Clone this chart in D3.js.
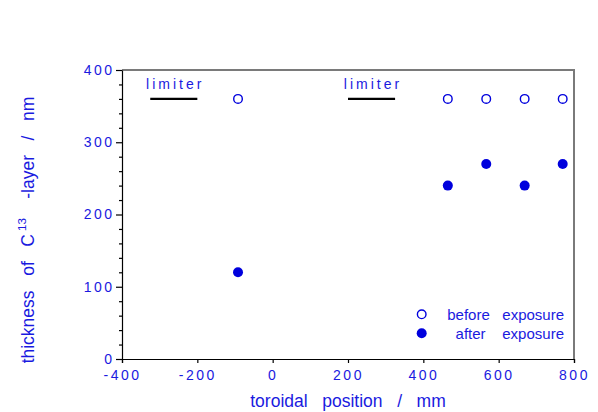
<!DOCTYPE html>
<html><head><meta charset="utf-8">
<script src="https://cdn.jsdelivr.net/npm/d3@7"></script>
<style>body{margin:0;background:#fff}svg{display:block}text{font-family:"Liberation Sans",Arial,sans-serif}</style>
</head><body><svg id="c" width="598" height="412"></svg>
<script>
const positions = [-92, 465, 567, 669, 770];
const before = [360, 360, 360, 360, 360];
const afterX = [-92, 465, 567, 669, 770];
const after = [120, 240, 270, 240, 270];
const limiters = [[-325, -200], [200, 325]];
const limiterY = 360;
const xTicks = [-400, -200, 0, 200, 400, 600, 800];
const yTicks = [0, 100, 200, 300, 400];
const blue = "#1a1ae0";
const dot = "#0000dd";

const svg = d3.select("#c");
const x = d3.scaleLinear().domain([-400, 800]).range([122, 574]);
const y = d3.scaleLinear().domain([0, 400]).range([359, 70]);

// frame top/right gray
svg.append("path").attr("d", `M${x(-400)},${y(400)}H${x(800)}V${y(0)}`)
  .attr("fill", "none").attr("stroke", "#7a7a7a").attr("stroke-width", 2);

// x axis
const xa = svg.append("g").attr("transform", `translate(0,${y(0)})`)
  .call(d3.axisBottom(x).tickValues(xTicks).tickSize(4).tickPadding(7).tickFormat(d => d));
xa.select(".domain").attr("stroke", "#000").attr("stroke-width", 1.2);
xa.selectAll(".tick line").attr("stroke", "#000").attr("stroke-width", 1.2);
xa.selectAll("text").attr("fill", blue).attr("font-size", 14).attr("letter-spacing", "2.5px")
  .text(d => d < 0 ? "-" + Math.abs(d) : String(d));

// y axis minor ticks
const ya = svg.append("g").attr("transform", `translate(${x(-400)},0)`);
ya.call(d3.axisLeft(y).tickValues(d3.range(0, 401, 20).filter(v => v % 100 !== 0)).tickSize(3).tickFormat(""));
ya.select(".domain").remove();
ya.selectAll(".tick line").attr("stroke", "#000").attr("stroke-width", 1.2);
const ya2 = svg.append("g").attr("transform", `translate(${x(-400)},0)`)
  .call(d3.axisLeft(y).tickValues(yTicks).tickSize(6).tickPadding(4).tickSizeOuter(0));
ya2.select(".domain").attr("stroke", "#000").attr("stroke-width", 1.2);
ya2.selectAll(".tick line").attr("stroke", "#000").attr("stroke-width", 1.2);
ya2.selectAll("text").attr("fill", blue).attr("font-size", 14).attr("letter-spacing", "2.5px").attr("dx", "2.5px");

// limiters
svg.selectAll(".lim").data(limiters).enter().append("line")
  .attr("x1", d => x(d[0])).attr("x2", d => x(d[1]))
  .attr("y1", y(limiterY)).attr("y2", y(limiterY))
  .attr("stroke", "#000").attr("stroke-width", 2.2);
svg.selectAll(".limt").data(limiters).enter().append("text")
  .attr("x", d => x((d[0] + d[1]) / 2) + 1.5).attr("y", y(limiterY) - 9.5)
  .attr("text-anchor", "middle").attr("fill", blue).attr("font-size", 14)
  .attr("letter-spacing", "3px").text("limiter");

// points
svg.selectAll(".b").data(positions).enter().append("circle")
  .attr("cx", d => x(d)).attr("cy", (d, i) => y(before[i])).attr("r", 4.3)
  .attr("fill", "none").attr("stroke", dot).attr("stroke-width", 1.4);
svg.selectAll(".a").data(afterX).enter().append("circle")
  .attr("cx", d => x(d)).attr("cy", (d, i) => y(after[i])).attr("r", 5)
  .attr("fill", dot);

// legend
svg.append("circle").attr("cx", 421.7).attr("cy", 314.3).attr("r", 4.3)
  .attr("fill", "none").attr("stroke", dot).attr("stroke-width", 1.4);
svg.append("circle").attr("cx", 421.7).attr("cy", 333.3).attr("r", 5).attr("fill", dot);
svg.append("text").attr("x", 564).attr("y", 320).attr("text-anchor", "end")
  .attr("fill", blue).attr("font-size", 15).style("white-space", "pre")
  .text("before   exposure");
svg.append("text").attr("x", 564).attr("y", 339).attr("text-anchor", "end")
  .attr("fill", blue).attr("font-size", 15).style("white-space", "pre")
  .text("after    exposure");

// axis titles
svg.append("text").attr("x", 348).attr("y", 407).attr("text-anchor", "middle")
  .attr("fill", blue).attr("font-size", 17.5).style("white-space", "pre")
  .text("toroidal   position   /   mm");
const yt = svg.append("text").attr("transform", "translate(34,230) rotate(-90)")
  .attr("text-anchor", "middle").attr("fill", blue).attr("font-size", 17.5).style("white-space", "pre");
yt.append("tspan").text("thickness   of   C");
yt.append("tspan").attr("font-size", 11.5).attr("dy", -8).attr("dx", 3).text("13");
yt.append("tspan").attr("dy", 8).text("    -layer   /   nm");
</script></body></html>
